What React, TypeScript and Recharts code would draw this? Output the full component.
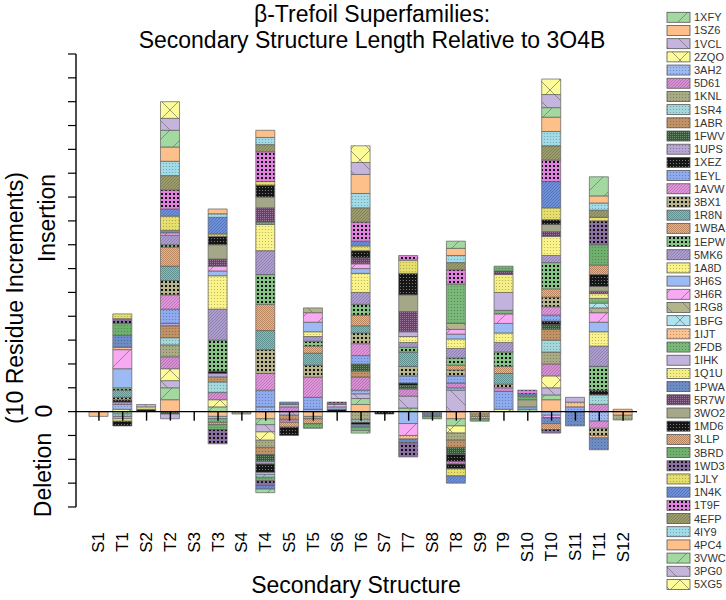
import React from "react";
import { ComposedChart, Bar, Line, XAxis, YAxis, ReferenceLine } from "recharts";

const categories = [
  "S1", "T1", "S2", "T2", "S3", "T3", "S4", "T4", "S5", "T5", "S6", "T6",
  "S7", "T7", "S8", "T8", "S9", "T9", "S10", "T10", "S11", "T11", "S12",
];

const yTicks = [-40, -30, -20, -10, 0, 10, 20, 30, 40, 50, 60, 70, 80, 90, 100, 110, 120, 130, 140, 150];

// length change per structure, in residues (negative = deletion)
//               S1 T1 S2 T2 S3 T3 S4 T4 S5 T5 S6 T6 S7 T7 S8 T8 S9 T9 S10 T10 S11 T11 S12
const v1XFY = [0, -1, 0, 5, 0, 2, 0, -2.5, 0, 0, 0, 2.5, 0, 1.5, 0, -3, 0, 0, 1, 2, 0, 0, 0];
const v1SZ6 = [-2, 0, 0, 5, 0, -2, 0, -3, 0, -2, 0, 3, 0, 0, 0, -3, -1, 0, 0, 5, 0, 0, -1.5];
const v1VCL = [0, 0, 0, 3, 0, 0, 0, -3, -1.5, 0, 0, 2, 0, 5, 0, 9, 0, 0, 0, 3, 0, 0, 0];
const v2ZQO = [0, 1, 0, 5, 0, 3, 0, -3.5, 0, 0, 0, 0, 0, 0, 0, -3, 0, 1, 0, 5, 0, 0, 0];
const v3AH2 = [0, 2, 0, 0, 0, -1, 0, 2, 0, 1, 0, 1.5, 0, 0, 0, 1, 0, 0, 0, 0, 0, -4, 0];
const v5D61 = [0, 1, 0, 5, 0, 3, 0, 0, 2, 0, 0, 5.5, 0, 3, 0, 2, 0, 0, 0, 5, 0, 3, 0];
const v1KNL = [0, 0, 0, 5, 0, 0, -1, -3, 0, -1, 0, -3.5, 0, 0, -1, -3, -1, 0, 0, 5, 0, 0, -2];
const v1SR4 = [0, -1, 0, 3, 0, 4.5, 0, 0, 0, 0, 0, -1, 0, 0, 0, 0, 0, 0, 0, 5, 0, 4, 0];
const v1ABR = [0, 0, 0, 5, 0, 2, 0, -3, -2, 0, 0, 2.5, 0, 0, 0, -3, 0, 0, 0, 4.5, 0, 0, 0];
const v1FWV = [0, 0, 0, -1, 0, 0, 0, -3, 0, 0, 0, 3, 0, 1.5, 0, -3, 0, 0, 0, 2, 0, 0, 0];
const v1UPS = [0, -1, 0, 1, 0, 1.5, 0, -1, 0, 0, 0, 0, 0, 0, 0, 0, 0, 0, 0, 0, 0, 0, 0];
const v1XEZ = [0, 1, 1, 0, 0, 1, 0, -3.5, 0, 0, 1, -1, 0, 1, 0, -3, 0, 0, 0, 1.5, 0, 2, 0];
const v1EYL = [0, 0, 0, 6, 0, 0, 0, 7, 0, 5, 0, 3.5, 0, 3, 0, 3, 0, 7.5, 1, 2.5, 2, 0, 0];
const v1AVW = [0, 0, 0, 6, 0, 0, 0, 7, -1, 8.5, 0, 5, 0, 0, 0, -1, 0, 1.5, 0, 3.5, 0, -3, 0];
const v3BX1 = [0, 1, 0, 6, 0, 0, 0, 10, 0, 5, 0, 4.5, 0, 4, 0, 2.5, 0, 1.5, 0, 4, 0, -3, 0];
const v1R8N = [0, 3, 0, 6, 0, 0, 0, 8, 0, 5, 0, 3, 0, 6, 0, 0, 0, 4.5, 0, 0, 0, 0, 0];
const v1WBA = [0, 0, 0, 8, 0, 0, 0, 11, -2, 3, 0, 4.5, 0, 0, 0, 2, -1, 3, 0, 3.5, 0, 0, 0];
const v1EPW = [0, 1, 0, 1, 0, 13, 0, 12.5, 0, 2, 0, 4.5, 0, 2, 0, 3, 0, 6, 0, 11, 0, 10, 0];
const v5MK6 = [0, 0, 0, 4, 0, 13, 0, 10, 0, 2, 0, 5, 0, 2, 0, 4, 0, 4, 0, 3, 0, 8.5, 0];
const v1A8D = [0, -1, 0, 0, 0, 14, 0, 11, 0, 2, 0, 8, 0, 2.5, 0, 4, 0, 4, 0, 8, 0, 6, 0];
const v3H6S = [0, 8, 0, 0, 0, 2, 0, -1, 0, 4, 1, 2, 0, -5, 0, 2, 0, 4, 0, -1.5, 0, 4, 0];
const v3H6R = [0, 8, 0, 1, 0, 2, 0, 0, 0, 4, 1, 2, 0, -5, 0, 2, 0, 4, 0, -1, 0, 4, 0];
const v1RG8 = [0, 0, 0, 0, 0, 0, 0, 0, 0, 2, 0, 0, 0, 0, 0, 2.5, 0, 0, 0, 0, 0, 2, 0];
const v1BFG = [0, 0, 0, 0, 0, 0, 0, -1, 0, 0, 0, 0, 0, 0, 0, 0, 0, 0, 0, 0, 0, 2, 0];
const v1IJT = [0, 1, 0, 0, 0, 0, 0, 0, 0, 0, 0, 0, 0, -1.5, 0, 0, 0, 0, 0, 0, 2, -1, 0];
const v2FDB = [0, 0, 0, 0, 0, -1.5, 0, 1, 0, 0, 0, 0, 0, 0, 0, 16.5, 0, 1.5, 0, 0, 0, 2, 0];
const v1IHK = [0, 0, 0, -2, 0, 0, 0, 0, 1, 0, 0, 0, 0, 2, 0, 0, 0, 7.5, 0, 0, 2, 0, 0];
const v1Q1U = [0, 0, 1, 0, 0, 0, 0, 0, 0, 0, 0, 0, 0, 0, 0, 0, 0, 7.5, 0, 0, 0, 2, 0];
const v1PWA = [0, 5, 0, 1, 0, 0, 0, 0, 1, 0, 0, -1, 0, -1.5, -1, 0, 0, 0, 0, -2.5, -6, -5, 0];
const v5R7W = [0, 0, 0, 0, 0, 3, 0, 6, 0, 0, 0, 2.5, 0, 8.5, 0, 0, 0, 1.5, 0, 2, 0, 1, 0];
const v3WO2 = [0, 0, 0, 0, 0, 6, 0, 4.5, 0, 0, 0, 0, 0, 7, 0, 0, 0, 0, 3, 3, 0, 2, 0];
const v1MD6 = [0, -2, 0, 0, 0, 3.5, 0, 5, -3.5, 0, 0, 3, -1, 9, 0, -2, 0, 0, 0, 2, 0, 5, 0];
const v3LLP = [0, 0, 0, 0, 0, -1, 0, 0, 0, -2, 0, 0, 0, 0, 0, 0, 0, 0, 0, -2.5, 0, 4, 0];
const v3BRD = [0, 5, 0, 0, 0, -2, 0, -1.5, 0, -2, 0, -1.5, 0, 0, -1, 0, -1, 2, 1.5, 0, 0, 8.5, 0];
const v1WD3 = [0, 2, 0, 0, 0, -6, 0, -2, 0, 0, 1, 0, 0, -6, 0, 0, 0, 0, 0, -1.5, 0, 10, 0];
const v1JLY = [0, 2, 0, 6, 0, 1, 0, 1.5, 0, 0, 0, 2, 0, 5.5, 0, -3, 0, 0, 0, 5, 0, 1.5, 0];
const v1N4K = [0, 0, 0, 3, 0, 7, 0, -1.5, 0, 0, 0, 2, 0, 0, 0, -3, 0, 0, 1, 11, 0, 0, 0];
const v1T9F = [0, 0, 0, 8, 0, 0, 0, 12.5, 0, 0, 0, 8, 0, 2, 0, 6, 0, 0, 1.5, 9, 0, 0, 0];
const v4EFP = [0, 0, 0, 6, 0, 0, 0, 3, 0, 0, 0, 6, 0, 0, 0, 3, 0, 0, 0, 6, 0, 3, 0];
const v4IY9 = [0, 0, 0, 6, 0, 1.5, 0, 3, 0, 0, 0, 6, 0, 0, 0, 3, 0, 0, 0, 6, 0, 3, 0];
const v4PC4 = [0, 0, 0, 6, 0, 2, 0, 3, 0, 0, 0, 8, 0, 0, 0, 3, 0, 0, 0, 6, 0, 3, 1];
const v3VWC = [0, 0, 0, 7, 0, 0, 0, -1.5, 0, 0, 0, -1, 0, 0, 0, 3, 0, 0, 0, 4, 0, 8, 0];
const v3PG0 = [0, 0, 1, 5, 0, 0, 0, 0, 0, 0, 0, 5, 0, 0, 0, 0, 0, 0, 0, 5.5, 0, 0, 0];
const v5XG5 = [0, 0, 0, 7, 0, 0, 0, 0, 0, 0, 0, 7, 0, 0, 0, 0, 0, 0, 0, 6.5, 0, 0, 0];

// legend order (top to bottom)
const seriesList: [string, number[]][] = [
  ["1XFY", v1XFY], ["1SZ6", v1SZ6], ["1VCL", v1VCL], ["2ZQO", v2ZQO], ["3AH2", v3AH2],
  ["5D61", v5D61], ["1KNL", v1KNL], ["1SR4", v1SR4], ["1ABR", v1ABR], ["1FWV", v1FWV],
  ["1UPS", v1UPS], ["1XEZ", v1XEZ], ["1EYL", v1EYL], ["1AVW", v1AVW], ["3BX1", v3BX1],
  ["1R8N", v1R8N], ["1WBA", v1WBA], ["1EPW", v1EPW], ["5MK6", v5MK6], ["1A8D", v1A8D],
  ["3H6S", v3H6S], ["3H6R", v3H6R], ["1RG8", v1RG8], ["1BFG", v1BFG], ["1IJT", v1IJT],
  ["2FDB", v2FDB], ["1IHK", v1IHK], ["1Q1U", v1Q1U], ["1PWA", v1PWA], ["5R7W", v5R7W],
  ["3WO2", v3WO2], ["1MD6", v1MD6], ["3LLP", v3LLP], ["3BRD", v3BRD], ["1WD3", v1WD3],
  ["1JLY", v1JLY], ["1N4K", v1N4K], ["1T9F", v1T9F], ["4EFP", v4EFP], ["4IY9", v4IY9],
  ["4PC4", v4PC4], ["3VWC", v3VWC], ["3PG0", v3PG0], ["5XG5", v5XG5],
];

// fill style per structure: [texture, base colour]
const looks: Record<string, [string, string]> = {
  "1XFY": ["diagF", "#a3d9a0"], "1SZ6": ["plain", "#fdc08b"], "1VCL": ["diagB", "#c5b5dd"],
  "2ZQO": ["cross", "#fdfb98"], "3AH2": ["dots", "#9db9f2"], "5D61": ["hatch", "#d98fd6"],
  "1KNL": ["dots", "#a9ab85"], "1SR4": ["dots", "#a3d8dc"], "1ABR": ["dots", "#c19266"],
  "1FWV": ["dark", "#2f5f2f"], "1UPS": ["dots", "#b7a6d4"], "1XEZ": ["black", "#151515"],
  "1EYL": ["dots", "#8eaaf0"], "1AVW": ["hatch", "#e294dc"], "3BX1": ["grid", "#b8b48c"],
  "1R8N": ["checker", "#7fc0c0"], "1WBA": ["checker", "#f6b27e"], "1EPW": ["grid", "#86c486"],
  "5MK6": ["hatch", "#ad9dd0"], "1A8D": ["dots", "#faf389"], "3H6S": ["plain", "#9cbaf4"],
  "3H6R": ["diagF", "#f7aaf2"], "1RG8": ["diagB", "#b4b48c"], "1BFG": ["cross", "#aee3ef"],
  "1IJT": ["dots", "#fcc292"], "2FDB": ["dots", "#79b879"], "1IHK": ["plain", "#c2b2de"],
  "1Q1U": ["dots", "#f4ee84"], "1PWA": ["dots", "#6d8cc6"], "5R7W": ["dark", "#6e3c6e"],
  "3WO2": ["plain", "#a4a888"], "1MD6": ["black", "#151515"], "3LLP": ["checker", "#f4ae7e"],
  "3BRD": ["dots", "#6fb06f"], "1WD3": ["grid", "#8a70a0"], "1JLY": ["dots", "#e6df6c"],
  "1N4K": ["hatch", "#6d90dc"], "1T9F": ["grid", "#e081e0"], "4EFP": ["hatch", "#9c9c6c"],
  "4IY9": ["dots", "#a2dbe8"], "4PC4": ["plain", "#fdc08b"], "3VWC": ["diagF", "#a3d9a0"],
  "3PG0": ["diagB", "#c5b5dd"], "5XG5": ["cross", "#fdfb98"],
};

// bars are stacked with 1SZ6 at the base, then 1XFY, then legend order
const stackOrder = ["1SZ6", "1XFY", ...seriesList.map((s) => s[0]).filter((id) => id !== "1SZ6" && id !== "1XFY")];

const data = categories.map((cat, i) => {
  const row: any = { cat, zero: 0 };
  seriesList.forEach(([id, vals]) => {
    row["k" + id] = vals[i];
  });
  return row;
});

const FONT = "'Liberation Sans', Arial, Helvetica, sans-serif";

function makePattern(pid: string, kind: string, color: string) {
  const lineCol = "#6e6e6e";
  if (kind === "diagF" || kind === "diagB" || kind === "cross") {
    const f = "M0,20 L20,0 M-5,5 L5,-5 M15,25 L25,15";
    const b = "M0,0 L20,20 M-5,15 L5,25 M15,-5 L25,5";
    const d = kind === "diagF" ? f : kind === "diagB" ? b : f + " " + b;
    return (
      <pattern id={pid} key={pid} width={20} height={20} patternUnits="userSpaceOnUse">
        <rect width={20} height={20} fill={color} />
        <path d={d} stroke={lineCol} strokeWidth={0.7} fill="none" />
      </pattern>
    );
  }
  if (kind === "dots") {
    return (
      <pattern id={pid} key={pid} width={3} height={3} patternUnits="userSpaceOnUse">
        <rect width={3} height={3} fill={color} />
        <circle cx={1.5} cy={1.5} r={0.6} fill="rgba(0,0,0,0.28)" />
      </pattern>
    );
  }
  if (kind === "hatch") {
    return (
      <pattern id={pid} key={pid} width={3} height={3} patternUnits="userSpaceOnUse">
        <rect width={3} height={3} fill={color} />
        <path d="M-1,1 L1,-1 M0,3 L3,0 M2,4 L4,2" stroke="rgba(0,0,0,0.3)" strokeWidth={0.6} />
      </pattern>
    );
  }
  if (kind === "grid") {
    return (
      <pattern id={pid} key={pid} width={4} height={4} patternUnits="userSpaceOnUse">
        <rect width={4} height={4} fill={color} />
        <rect x={1} y={1} width={2} height={2} fill="#111" />
      </pattern>
    );
  }
  if (kind === "checker") {
    return (
      <pattern id={pid} key={pid} width={2} height={2} patternUnits="userSpaceOnUse">
        <rect width={2} height={2} fill={color} />
        <rect x={0} y={0} width={1} height={1} fill="rgba(0,0,0,0.25)" />
        <rect x={1} y={1} width={1} height={1} fill="rgba(0,0,0,0.25)" />
      </pattern>
    );
  }
  if (kind === "black") {
    return (
      <pattern id={pid} key={pid} width={3} height={3} patternUnits="userSpaceOnUse">
        <rect width={3} height={3} fill={color} />
        <circle cx={1.5} cy={1.5} r={0.6} fill="#8a8a8a" />
      </pattern>
    );
  }
  if (kind === "dark") {
    return (
      <pattern id={pid} key={pid} width={2} height={2} patternUnits="userSpaceOnUse">
        <rect width={2} height={2} fill={color} />
        <rect x={0} y={0} width={1} height={1} fill="rgba(255,255,255,0.3)" />
      </pattern>
    );
  }
  return (
    <pattern id={pid} key={pid} width={4} height={4} patternUnits="userSpaceOnUse">
      <rect width={4} height={4} fill={color} />
    </pattern>
  );
}

const patternDefs = (prefix: string) => (
  <defs>{seriesList.map(([id]) => makePattern(prefix + id, looks[id][0], looks[id][1]))}</defs>
);

const CatTick = (props: any) => {
  const { x, payload } = props;
  return (
    <text
      transform={`translate(${x},532) rotate(-90)`}
      textAnchor="end"
      dominantBaseline="central"
      fontSize={17}
      fontFamily={FONT}
      fill="#000"
    >
      {payload.value}
    </text>
  );
};

// y ticks are drawn without labels, only the short marks
const NoLabel = (props: any) => <g key={props.index} />;

const ZeroTick = (props: any) => {
  const { cx, cy, index } = props;
  if (cx == null || cy == null) return <g key={index} />;
  return <line key={index} x1={cx} x2={cx} y1={cy} y2={cy + 9} stroke="#000" strokeWidth={1.4} />;
};

const rotated = (txt: string, x: number, y: number) => (
  <text
    transform={`translate(${x},${y}) rotate(-90)`}
    textAnchor="middle"
    dominantBaseline="central"
    fontSize={23}
    fontFamily={FONT}
    fill="#000"
  >
    {txt}
  </text>
);

export default function App() {
  return (
    <div style={{ position: "absolute", left: 0, top: 0, width: 726, height: 600, background: "#fff" }}>
      <ComposedChart
        width={726}
        height={600}
        data={data}
        stackOffset="sign"
        barSize={19}
        margin={{ top: 54, right: 89, bottom: 0, left: 0 }}
      >
        {patternDefs("c")}
        <XAxis
          dataKey="cat"
          type="category"
          height={93}
          interval={0}
          padding={{ left: 11, right: 2 }}
          axisLine={false}
          tickLine={false}
          tick={<CatTick />}
        />
        <YAxis
          type="number"
          width={76}
          domain={[-40, 150]}
          ticks={yTicks}
          interval={0}
          tick={NoLabel}
          tickSize={8}
          axisLine={{ stroke: "#000", strokeWidth: 1.4 }}
          tickLine={{ stroke: "#000", strokeWidth: 1.2 }}
        />
        {stackOrder.map((id) => (
          <Bar
            key={id}
            dataKey={"k" + id}
            stackId="a"
            fill={`url(#c${id})`}
            stroke="#5e5e5e"
            strokeWidth={0.7}
            isAnimationActive={false}
          />
        ))}
        <ReferenceLine y={0} stroke="#000" strokeWidth={1.3} />
        <Line
          dataKey="zero"
          stroke="none"
          dot={ZeroTick}
          activeDot={false}
          isAnimationActive={false}
          legendType="none"
        />
      </ComposedChart>
      <svg
        width={726}
        height={600}
        style={{ position: "absolute", left: 0, top: 0, pointerEvents: "none" }}
      >
        {patternDefs("l")}
        <text x={372} y={14} textAnchor="middle" dominantBaseline="central" fontSize={23} fontFamily={FONT}>
          β-Trefoil Superfamilies:
        </text>
        <text x={372} y={40} textAnchor="middle" dominantBaseline="central" fontSize={23} fontFamily={FONT}>
          Secondary Structure Length Relative to 3O4B
        </text>
        {rotated("(10 Residue Increments)", 15, 298)}
        {rotated("Insertion", 47, 218)}
        {rotated("0", 44, 411)}
        {rotated("Deletion", 43, 475)}
        <text x={356} y={585} textAnchor="middle" dominantBaseline="central" fontSize={23} fontFamily={FONT}>
          Secondary Structure
        </text>
        {seriesList.map(([id], i) => {
          const y = 17.3 + i * 13.19;
          return (
            <g key={id}>
              <rect x={667} y={y - 5} width={23} height={10} fill={`url(#l${id})`} stroke="#555" strokeWidth={0.8} />
              <text x={694} y={y} dominantBaseline="central" fontSize={11} fontFamily={FONT} fill="#333">
                {id}
              </text>
            </g>
          );
        })}
      </svg>
    </div>
  );
}
